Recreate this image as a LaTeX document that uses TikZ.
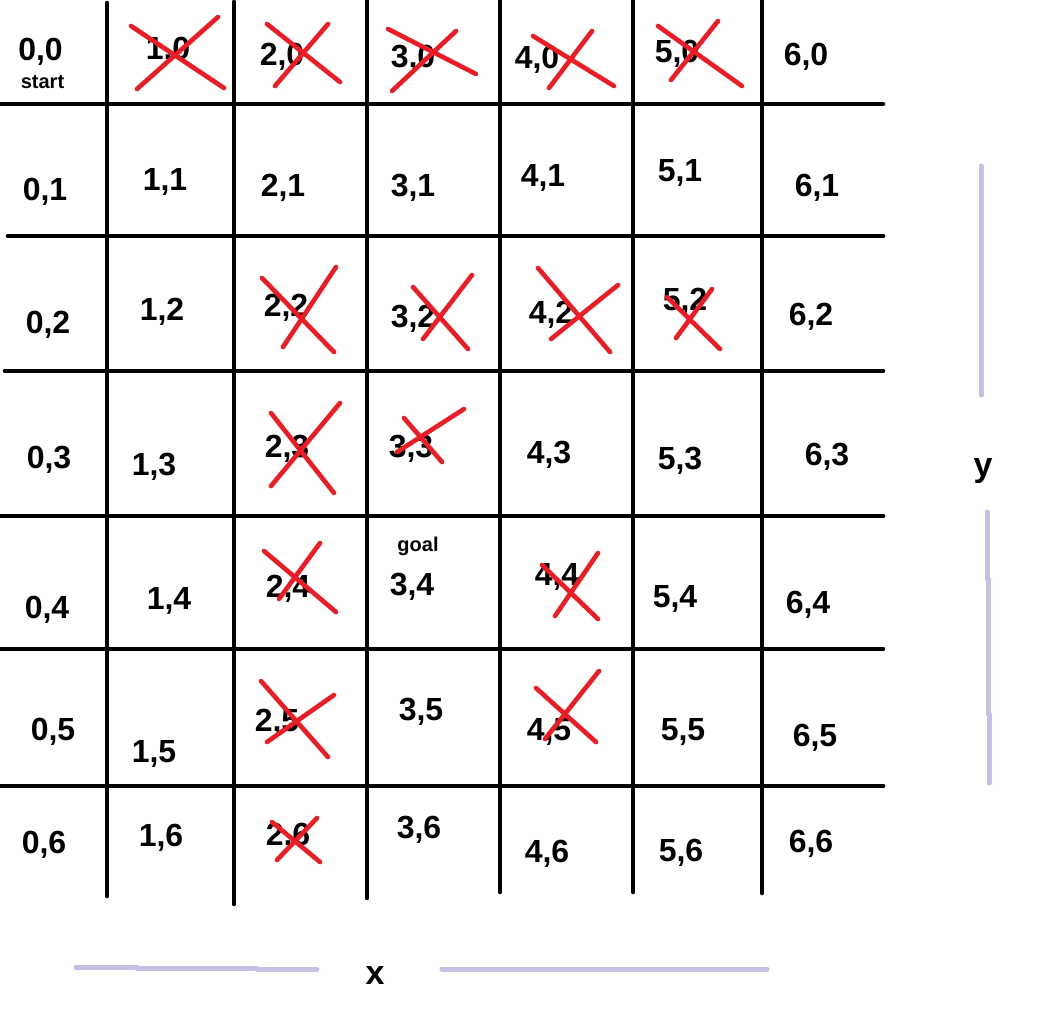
\documentclass[tikz,border=0pt]{standalone}
\usepackage{fontspec}
\setmainfont{Liberation Sans}
\definecolor{paintred}{RGB}{237,28,36}
\definecolor{lavender}{RGB}{200,191,231}
\tikzset{
  gridline/.style={draw=black, line width=4.6pt, line cap=round},
  redx/.style={draw=paintred, line width=4.6pt, line cap=round},
  axisline/.style={draw=lavender, line width=5pt, line cap=round},
  lbl/.style={anchor=base, inner sep=0pt, font=\fontsize{32}{38}\selectfont\bfseries},
  smalllbl/.style={anchor=base, inner sep=0pt, font=\fontsize{20}{24}\selectfont\bfseries},
  axislbl/.style={anchor=base, inner sep=0pt, font=\fontsize{34}{40}\selectfont\bfseries},
}
\begin{document}
\begin{tikzpicture}[x=1pt,y=-1pt]
\useasboundingbox[fill=white] (0,0) rectangle (1046,1026);
% grid
\draw[gridline] (107,3)--(107,896);
\draw[gridline] (234,2)--(234,904);
\draw[gridline] (367,0)--(367,898);
\draw[gridline] (500,0)--(500,892);
\draw[gridline] (633,0)--(633,892);
\draw[gridline] (762,0)--(762,893);
\draw[gridline] (0,104)--(883,104);
\draw[gridline] (8,236)--(883,236);
\draw[gridline] (5,371)--(883,371);
\draw[gridline] (0,516)--(883,516);
\draw[gridline] (0,649)--(883,649);
\draw[gridline] (0,786)--(883,786);
% labels
\foreach \i/\j/\x/\b in {
  0/0/40.5/60, 1/0/168/59, 2/0/282/65, 3/0/413/67, 4/0/537/68, 5/0/677/62, 6/0/806/65,
  0/1/45/200, 1/1/165/190, 2/1/283/196, 3/1/413/196, 4/1/543/186, 5/1/680/181, 6/1/817/196,
  0/2/48/333, 1/2/162/320, 2/2/286/316, 3/2/413/327, 4/2/551/323, 5/2/685/310, 6/2/811/325,
  0/3/49/468, 1/3/154/475, 2/3/287/457, 3/3/411/457, 4/3/549/463, 5/3/680/469, 6/3/827/465,
  0/4/47/618, 1/4/169/609, 2/4/288/597, 3/4/412/595, 4/4/557/585, 5/4/675/607, 6/4/808/613,
  0/5/53/740, 1/5/154/762, 2/5/277/731, 3/5/421/720, 4/5/549/740, 5/5/683/740, 6/5/815/746,
  0/6/44/853, 1/6/161/846, 2/6/288/845, 3/6/419/838, 4/6/547/862, 5/6/681/861, 6/6/811/852}
  {\node[lbl] (c\i\j) at (\x,\b) {\i,\j};}
\node[smalllbl] (start) at (42.5,88) {start};
\node[smalllbl] (goal) at (418,551) {goal};
% red crosses
\draw[redx] (131,26)--(224,88) (137,89)--(218,17);
\draw[redx] (267,24)--(340,82) (275,86)--(328,24);
\draw[redx] (388,29)--(476,74) (392,91)--(456,31);
\draw[redx] (533,36)--(614,86) (549,88)--(592,31);
\draw[redx] (658,26)--(742,86) (671,80)--(718,21);
\draw[redx] (262,278)--(334,352) (283,347)--(336,267);
\draw[redx] (413,287)--(468,349) (423,339)--(472,275);
\draw[redx] (538,268)--(610,352) (551,339)--(618,285);
\draw[redx] (667,297)--(720,349) (676,338)--(712,289);
\draw[redx] (271,413)--(334,493) (271,486)--(340,403);
\draw[redx] (404,418)--(442,462) (397,452)--(464,409);
\draw[redx] (264,551)--(336,612) (279,599)--(320,543);
\draw[redx] (542,565)--(598,619) (555,616)--(598,553);
\draw[redx] (261,681)--(328,757) (267,742)--(334,695);
\draw[redx] (536,688)--(596,742) (545,739)--(599,671);
\draw[redx] (272,822)--(320,862) (277,860)--(317,818);
% axes
\draw[axisline] (76,967)--(137,967) (137,968)--(257,968) (257,969.3)--(317,969.3);
\draw[axisline] (442,969)--(767,969);
\node[axislbl] (xlbl) at (375,984) {x};
\draw[axisline] (981,166)--(981,395);
\draw[axisline] (987,512)--(987,579) (988,579)--(988,714) (989,714)--(989,783);
\node[axislbl] (ylbl) at (983,476) {y};
\end{tikzpicture}
\end{document}
